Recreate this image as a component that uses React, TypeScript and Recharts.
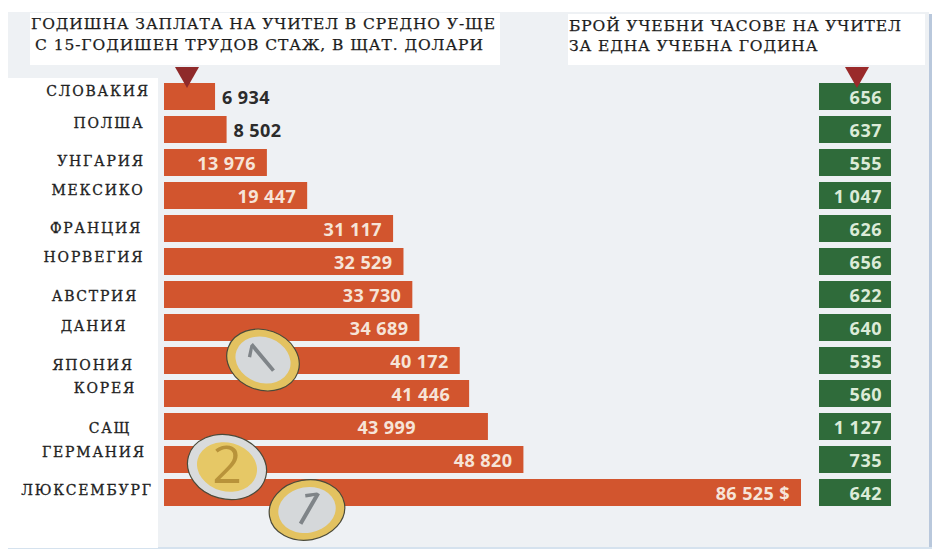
import { BarChart, Bar, XAxis, YAxis, LabelList } from 'recharts';

const countries = ['СЛОВАКИЯ', 'ПОЛША', 'УНГАРИЯ', 'МЕКСИКО', 'ФРАНЦИЯ', 'НОРВЕГИЯ', 'АВСТРИЯ', 'ДАНИЯ', 'ЯПОНИЯ', 'КОРЕЯ', 'САЩ', 'ГЕРМАНИЯ', 'ЛЮКСЕМБУРГ'];
const salaries = [6934, 8502, 13976, 19447, 31117, 32529, 33730, 34689, 40172, 41446, 43999, 48820, 86525];
const hours = [656, 637, 555, 1047, 626, 656, 622, 640, 535, 560, 1127, 735, 642];
const salaryTitle = ['ГОДИШНА ЗАПЛАТА НА УЧИТЕЛ В СРЕДНО У-ЩЕ', 'С 15-ГОДИШЕН ТРУДОВ СТАЖ, В ЩАТ. ДОЛАРИ'];
const hoursTitle = ['БРОЙ УЧЕБНИ ЧАСОВЕ НА УЧИТЕЛ', 'ЗА ЕДНА УЧЕБНА ГОДИНА'];

const rows = countries.map((country, i) => ({ country, salary: salaries[i], hours: hours[i] }));

// the labels in the original are hand placed, not lined up with the bars
const tickNudge: Record<string, [number, number]> = {
  СЛОВАКИЯ: [98, -6], ПОЛША: [109, -7], УНГАРИЯ: [101, -2], МЕКСИКО: [98, -6], ФРАНЦИЯ: [96, -1],
  НОРВЕГИЯ: [94, -5], АВСТРИЯ: [95, 1], ДАНИЯ: [94, -2], ЯПОНИЯ: [93, 4], КОРЕЯ: [105, -6],
  САЩ: [110, 1], ГЕРМАНИЯ: [94, -8], ЛЮКСЕМБУРГ: [87, -3],
};
const labelGap: Record<number, number> = { 41446: 19, 43999: 72 };

const fmt = (v: number) => String(v).replace(/\B(?=(\d{3})+$)/g, ' ');
const sans = '"Open Sans", sans-serif';
const serif = '"DejaVu Serif", serif';

function CountryTick({ y, payload }: any) {
  const [cx, dy] = tickNudge[payload.value];
  return (
    <text x={cx} y={y + dy + 5} textAnchor="middle" fontFamily={serif} fontSize={14} letterSpacing={1.8} stroke="#222" strokeWidth={0.3} fill="#222">
      {payload.value}
    </text>
  );
}

function SalaryLabel({ x, y, width, height, value }: any) {
  const outside = value < 10000;
  const gap = labelGap[value] ?? 11;
  return (
    <text
      x={outside ? x + width + 7 : x + width - gap}
      y={y + height / 2 + 7}
      textAnchor={outside ? 'start' : 'end'}
      fontFamily={sans}
      fontWeight={700}
      fontSize={18}
      letterSpacing={0.4}
      fill={outside ? '#2b2b2b' : '#f6e4d8'}
    >
      {fmt(value)}
      {value === 86525 ? ' $' : ''}
    </text>
  );
}

// every hours box has the same width, so the box comes from the bar's background
function HoursBox({ background, y, height, value }: any) {
  return (
    <g>
      <rect x={background.x} y={y} width={background.width} height={height} fill="#2f6b3a" />
      <text
        x={background.x + background.width - 9}
        y={y + height / 2 + 7}
        textAnchor="end"
        fontFamily={sans}
        fontWeight={700}
        fontSize={18}
        letterSpacing={0.5}
        fill="#dcebd8"
      >
        {fmt(value)}
      </text>
    </g>
  );
}

function Coin({ cx, cy, rx, ry, rot, lean, two }: any) {
  const rim = two ? '#d9dbdc' : '#e3c260';
  const core = two ? '#e6c866' : '#d5d8da';
  const glyph = two ? '#b8933a' : '#7f8488';
  return (
    <g transform={`rotate(${rot} ${cx} ${cy})`}>
      <ellipse cx={cx} cy={cy} rx={rx} ry={ry} fill={rim} stroke="#4a4a3a" strokeWidth={1.2} />
      <ellipse cx={cx} cy={cy} rx={rx * 0.76} ry={ry * 0.76} fill={core} />
      <g transform={`rotate(${lean} ${cx} ${cy})`}>
        <text x={cx} y={cy + ry * 0.5} textAnchor="middle" fontFamily={sans} fontSize={rx * 1.3} fill={glyph}>
          {two ? '2' : '1'}
        </text>
      </g>
    </g>
  );
}

export default function App() {
  return (
    <div style={{ position: 'absolute', left: 0, top: 0, width: 933, height: 550, background: '#fff', overflow: 'hidden' }}>
      <div style={{ position: 'absolute', left: 8, top: 12, width: 921, height: 536, background: '#eef1f4' }} />
      <div style={{ position: 'absolute', left: 929, top: 14, width: 3, height: 534, background: '#b9c8dc' }} />
      <div style={{ position: 'absolute', left: 8, top: 547, width: 924, height: 2, background: '#d5e2ee' }} />
      <div style={{ position: 'absolute', left: 8, top: 78, width: 150, height: 470, background: '#fff' }} />
      <div style={{ position: 'absolute', left: 30, top: 13, width: 470, height: 52, background: '#fff' }} />
      <div style={{ position: 'absolute', left: 568, top: 14, width: 357, height: 51, background: '#fff' }} />

      <div style={{ position: 'absolute', left: 0, top: 0 }}>
        <BarChart width={801} height={550} layout="vertical" data={rows} margin={{ top: 80, right: 0, bottom: 41, left: 0 }} barCategoryGap={3}>
          <XAxis type="number" hide domain={[0, 86525]} />
          <YAxis type="category" dataKey="country" width={164} axisLine={false} tickLine={false} tick={CountryTick} interval={0} />
          <Bar dataKey="salary" fill="#d2552e" barSize={27} isAnimationActive={false}>
            <LabelList dataKey="salary" content={SalaryLabel} />
          </Bar>
        </BarChart>
      </div>
      <div style={{ position: 'absolute', left: 819, top: 0 }}>
        <BarChart width={72} height={550} layout="vertical" data={rows} margin={{ top: 80, right: 0, bottom: 41, left: 0 }} barCategoryGap={3}>
          <XAxis type="number" hide domain={[0, 1200]} />
          <YAxis type="category" dataKey="country" hide />
          <Bar dataKey="hours" barSize={27} shape={HoursBox} isAnimationActive={false} background={{ fill: 'none' }} />
        </BarChart>
      </div>

      <svg width={933} height={550} style={{ position: 'absolute', left: 0, top: 0 }}>
        {salaryTitle.map((t, i) => (
          <text key={t} x={i ? 35 : 31} y={29 + i * 21} fontFamily={serif} fontSize={15.5} letterSpacing={0.92} stroke="#1c1c1c" strokeWidth={0.25} fill="#1c1c1c">
            {t}
          </text>
        ))}
        {hoursTitle.map((t, i) => (
          <text key={t} x={569} y={31 + i * 20} fontFamily={serif} fontSize={15.5} letterSpacing={0.88} stroke="#1c1c1c" strokeWidth={0.25} fill="#1c1c1c">
            {t}
          </text>
        ))}
        <polygon points="175,67 199,67 187,88" fill="#8f2a2a" />
        <polygon points="845,67 869,67 857,88" fill="#9a2a2a" />
        <Coin cx={263} cy={360} rx={37} ry={30} rot={20} lean={-60} />
        <Coin cx={227} cy={467} rx={40} ry={32} rot={15} lean={-15} two />
        <Coin cx={307} cy={510} rx={38} ry={30} rot={-10} lean={40} />
      </svg>
    </div>
  );
}
